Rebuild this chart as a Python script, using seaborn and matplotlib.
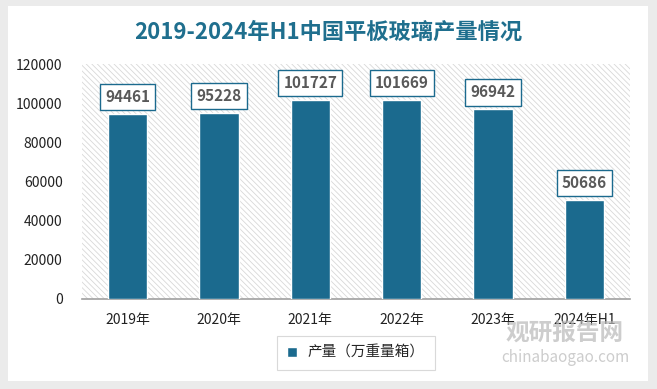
import pandas as pd
import matplotlib.pyplot as plt
import seaborn as sns
from matplotlib.patches import Rectangle

# data
years = ["2019年", "2020年", "2021年", "2022年", "2023年", "2024年H1"]
output = [94461, 95228, 101727, 101669, 96942, 50686]
series_name = "产量（万重量箱）"
title = "2019-2024年H1中国平板玻璃产量情况"

df = pd.DataFrame({"year": years, "value": output, "series": series_name})

sns.set_theme(style="white")
plt.rcParams["font.family"] = ["Noto Sans CJK SC", "DejaVu Sans"]
plt.rcParams["hatch.linewidth"] = 0.6

bar_color = "#1b6a8e"
title_color = "#1f6f8e"

fig = plt.figure(figsize=(6.57, 3.89), dpi=100)
fig.patch.set_facecolor("#ebebeb")
# white card behind everything
card = Rectangle((8 / 657, 8 / 389), 640 / 657, 375 / 389,
                 transform=fig.transFigure, facecolor="white",
                 edgecolor="none", zorder=-5)
fig.add_artist(card)

ax = fig.add_axes([82 / 657, 1 - 299 / 389, 548 / 657, 235 / 389])
ax.patch.set_facecolor("white")
ax.patch.set_hatch("\\\\\\\\\\\\")
ax.patch.set_edgecolor("#d8d8d8")
ax.patch.set_linewidth(0)

sns.barplot(data=df, x="year", y="value", hue="series", palette=[bar_color],
            saturation=1, width=0.43, edgecolor="white", linewidth=1,
            ax=ax, zorder=3)

ax.set_ylim(0, 120000)
ax.set_xlim(-0.5, 5.5)
ax.set_yticks(range(0, 120001, 20000))
ax.set_xlabel("")
ax.set_ylabel("")
ax.tick_params(axis="y", labelsize=10, length=0, pad=14, labelcolor="#222222")
ax.tick_params(axis="x", labelsize=10, length=0, pad=10, labelcolor="#222222")
for s in ["top", "right", "left"]:
    ax.spines[s].set_visible(False)
ax.spines["bottom"].set_color("#a0a0a0")
ax.spines["bottom"].set_linewidth(1.2)

for i, v in enumerate(output):
    ax.annotate(f"{v}", xy=(i, v), xytext=(0, 12), textcoords="offset points",
                ha="center", va="center", fontsize=11, fontweight="bold",
                color="#595959", zorder=5,
                bbox=dict(boxstyle="square,pad=0.33", facecolor="white",
                          edgecolor=bar_color, linewidth=1))

fig.text(0.5, 1 - 32 / 389, title, ha="center", va="center", fontsize=16,
         fontweight="bold", color=title_color)

leg = ax.legend(loc="center", bbox_to_anchor=(356 / 657, 1 - 353 / 389),
                bbox_transform=fig.transFigure, frameon=True, fancybox=False,
                fontsize=10.5, handlelength=0.7, handleheight=0.7,
                handletextpad=0.7, borderpad=0.7)
leg.get_frame().set_edgecolor("#d0d0d0")
leg.get_frame().set_linewidth(0.8)

# watermark
fig.text(565 / 657, 1 - 333 / 389, "观研报告网", ha="center", va="center",
         fontsize=17, fontweight="bold", color="#b8b8b8", alpha=0.7, zorder=10)
fig.text(565 / 657, 1 - 357 / 389, "chinabaogao.com", ha="center", va="center",
         fontsize=11, color="#b8b8b8", alpha=0.7, zorder=10)

fig.savefig("out.png", dpi=100, facecolor=fig.get_facecolor())
